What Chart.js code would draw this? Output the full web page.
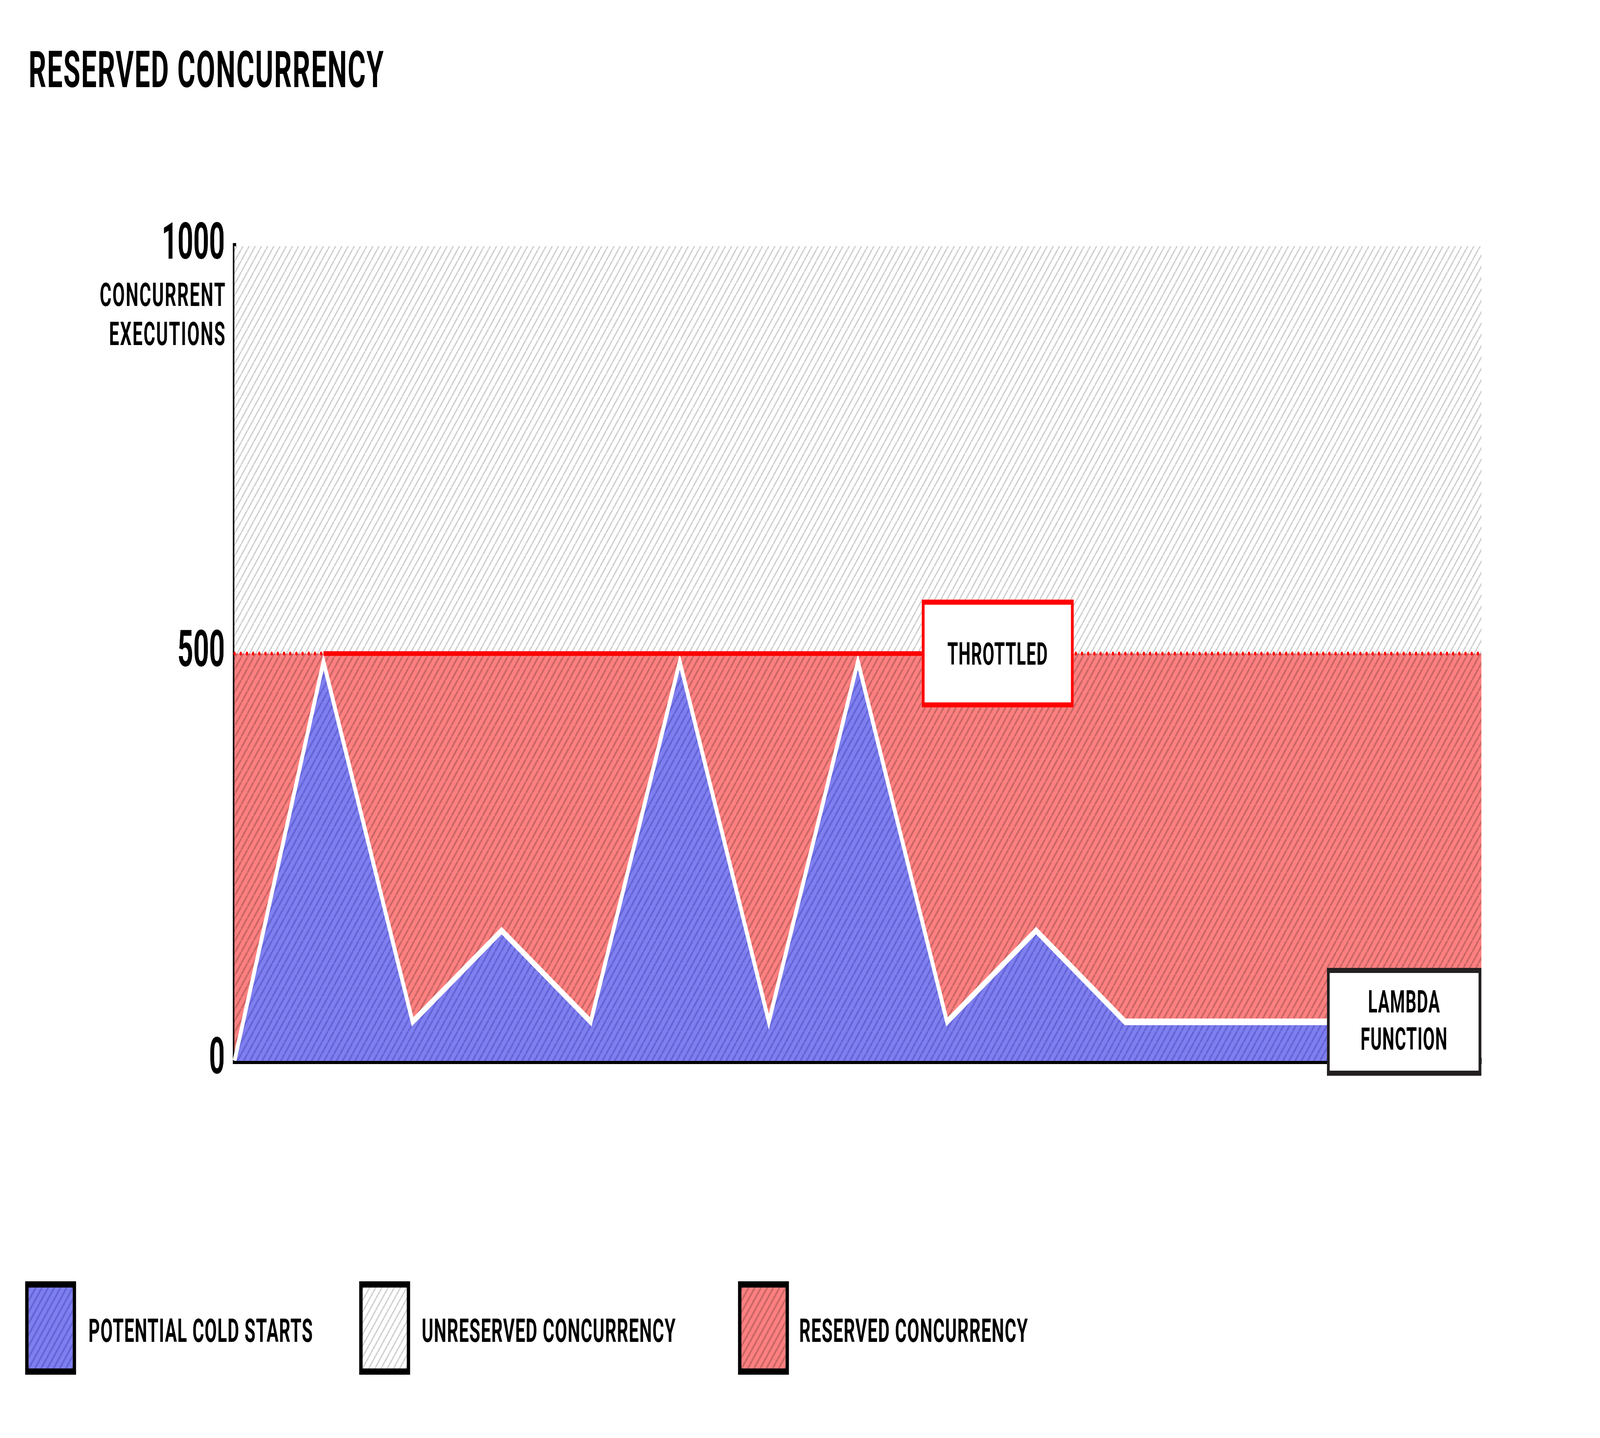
<!DOCTYPE html>
<html>
<head>
<meta charset="utf-8">
<script src="https://cdn.jsdelivr.net/npm/chart.js@4.4.1/dist/chart.umd.min.js"></script>
<style>
  html, body { margin: 0; padding: 0; background: #fff; overflow: hidden; width: 100vw; height: 100vh; }
  #wrap { position: absolute; left: 0; top: 0; width: 7501px; height: 3680px; transform-origin: 0 0; font-family: Roboto, "Liberation Sans", sans-serif; font-weight: 700; color: #000; }
  #chartBox { position: absolute; left: 0; top: 0; width: 7501px; height: 3680px; }
  .title { position: absolute; left: 134px; top: 114px; font-size: 129px; line-height: 129px; letter-spacing: 4px; white-space: nowrap; }
  .swatch { position: absolute; top: 3279px; width: 239px; height: 239px; box-sizing: border-box; border: 16px solid #000; }
  .legend-label { position: absolute; top: 3364px; font-size: 83px; line-height: 83px; letter-spacing: 2.6px; white-space: nowrap; }
  .cold { background: repeating-linear-gradient(135deg, #6565d9 0 7px, #7f7fef 7px 20.5px); }
  .unres { background: repeating-linear-gradient(135deg, #cfcfcf 0 5px, #ffffff 5px 20.5px); }
  .res { background: repeating-linear-gradient(135deg, #cc6767 0 7px, #ff8080 7px 20.5px); }
</style>
</head>
<body>
<div id="wrap">
  <div id="chartBox"><canvas id="chart"></canvas></div>
  <div class="title">RESERVED CONCURRENCY</div>

  <div class="swatch cold" style="left:118px"></div>
  <div class="legend-label" style="left:415px">POTENTIAL COLD STARTS</div>
  <div class="swatch unres" style="left:1684px"></div>
  <div class="legend-label" style="left:1977px">UNRESERVED CONCURRENCY</div>
  <div class="swatch res" style="left:3460px"></div>
  <div class="legend-label" style="left:3747px">RESERVED CONCURRENCY</div>
</div>

<script>
// time steps along x (no tick labels on this axis)
const steps = ['0', '1', '2', '3', '4', '5', '6', '7', '8', '9', '10', '11', '12', '13', '14'];

// concurrent executions of the lambda function
const coldStarts = [0, 490, 48, 160, 48, 490, 48, 490, 48, 160, 48, 48, 48, 48, 48];
// account pool (unreserved) and the function's reserved slice
const unreserved = [1000, 1000, 1000, 1000, 1000, 1000, 1000, 1000, 1000, 1000, 1000, 1000, 1000, 1000, 1000];
const reserved = [500, 500, 500, 500, 500, 500, 500, 500, 500, 500, 500, 500, 500, 500, 500];
// stretch where requests are throttled at the reserved limit
const throttled = [null, 500, 500, 500, 500, 500, 500, 500, 500, null, null, null, null, null, null];

const yTicks = [0, 500, 1000];
const axisCaption = ['CONCURRENT', 'EXECUTIONS'];
const throttleLabel = 'THROTTLED';
const throttleAt = 8.57;
const lambdaLabel = ['LAMBDA', 'FUNCTION'];

// the page is laid out at 7501x3680; fit it to whatever window we get
const wrap = document.getElementById('wrap');
function fit() {
  const sx = window.innerWidth / 7501;
  const sy = window.innerHeight / 3680;
  wrap.style.transform = 'scale(' + sx + ',' + sy + ')';
}
fit();
window.addEventListener('resize', fit);

const canvas = document.getElementById('chart');
const ctx = canvas.getContext('2d');

function hatch(base, stripe, width) {
  const size = 29;
  const tile = document.createElement('canvas');
  tile.width = size;
  tile.height = size;
  const g = tile.getContext('2d');
  g.fillStyle = base;
  g.fillRect(0, 0, size, size);
  g.strokeStyle = stripe;
  g.lineWidth = width;
  g.beginPath();
  for (const k of [-1, 0, 1]) {
    g.moveTo(k * size, size);
    g.lineTo(k * size + size, 0);
  }
  g.stroke();
  return ctx.createPattern(tile, 'repeat');
}

const annotations = {
  id: 'annotations',
  afterDraw(chart) {
    const { ctx, chartArea, scales: { x, y } } = chart;
    ctx.save();
    ctx.fillStyle = '#000';
    ctx.textBaseline = 'alphabetic';

    // caption under the top tick
    ctx.letterSpacing = '4.5px';
    ctx.font = '700 84px Roboto';
    ctx.textAlign = 'right';
    const top = y.getPixelForValue(1000);
    ctx.fillText(axisCaption[0], chartArea.left - 39, top + 153);
    ctx.fillText(axisCaption[1], chartArea.left - 39, top + 253);

    // throttled box on the reserved limit
    ctx.letterSpacing = '2.5px';
    let cx = x.getPixelForValue(throttleAt);
    let cy = y.getPixelForValue(500);
    let w = 712, h = 276, b = 13;
    ctx.fillStyle = '#fff';
    ctx.fillRect(cx - w / 2, cy - h / 2, w, h);
    ctx.strokeStyle = '#ff0000';
    ctx.lineWidth = b;
    ctx.strokeRect(cx - w / 2 + b / 2, cy - h / 2 + b / 2, w - b, h - b);
    ctx.fillStyle = '#000';
    ctx.font = '700 80px Roboto';
    ctx.textAlign = 'center';
    ctx.fillText(throttleLabel, cx, cy + 28);

    // lambda function box at the end of the series
    w = 724; h = 276;
    cy = y.getPixelForValue(coldStarts[coldStarts.length - 1]);
    const left = chartArea.right - w;
    ctx.fillStyle = '#fff';
    ctx.fillRect(left, cy - h / 2, w, h);
    ctx.strokeStyle = '#231f20';
    ctx.strokeRect(left + b / 2, cy - h / 2 + b / 2, w - b, h - b);
    ctx.fillStyle = '#000';
    ctx.fillText(lambdaLabel[0], left + w / 2, cy - 24);
    ctx.fillText(lambdaLabel[1], left + w / 2, cy + 71);
    ctx.restore();
  }
};

document.fonts.load('700 80px Roboto').then(() => {
  new Chart(canvas, {
    type: 'line',
    data: {
      labels: steps,
      datasets: [
        {
          label: 'Unreserved concurrency',
          data: unreserved,
          fill: 'origin',
          backgroundColor: hatch('#ffffff', '#cfcfcf', 5),
          borderWidth: 0,
          pointRadius: 0,
          order: 5
        },
        {
          label: 'Reserved concurrency',
          data: reserved,
          fill: 'origin',
          backgroundColor: hatch('#ff8080', '#cc6767', 7),
          borderWidth: 0,
          pointRadius: 0,
          order: 4
        },
        {
          label: 'Potential cold starts',
          data: coldStarts,
          fill: 'origin',
          backgroundColor: hatch('#7f7fef', '#6565d9', 7),
          borderColor: '#ffffff',
          borderWidth: 17,
          borderJoinStyle: 'miter',
          tension: 0,
          pointRadius: 0,
          order: 3
        },
        {
          label: 'Reserved limit',
          data: reserved,
          fill: false,
          borderColor: '#ff0000',
          borderWidth: 10,
          borderDash: [1, 28],
          borderCapStyle: 'round',
          pointRadius: 0,
          order: 2
        },
        {
          label: 'Throttled',
          data: throttled,
          fill: false,
          borderColor: '#ff0000',
          borderWidth: 12,
          spanGaps: false,
          pointRadius: 0,
          order: 1
        }
      ]
    },
    options: {
      responsive: true,
      maintainAspectRatio: false,
      devicePixelRatio: 1,
      animation: false,
      layout: { padding: { left: 0, top: 630, right: 556, bottom: 965 } },
      plugins: {
        legend: { display: false },
        title: { display: false },
        tooltip: { enabled: false }
      },
      scales: {
        x: {
          offset: false,
          z: 1,
          grid: { display: false, drawTicks: false },
          ticks: { display: false },
          border: { display: true, color: '#000', width: 16 },
          afterFit: (s) => { s.height = 0; }
        },
        y: {
          min: 0,
          max: 1000,
          z: 1,
          afterBuildTicks: (s) => { s.ticks = yTicks.map(v => ({ value: v })); },
          grid: { display: false, drawTicks: false },
          border: { display: true, color: '#000', width: 16 },
          ticks: {
            padding: 45,
            color: '#000',
            font: { family: 'Roboto', weight: '700', size: 129 },
            callback: (v) => String(v)
          },
          afterFit: (s) => { s.width = 1099; }
        }
      }
    },
    plugins: [annotations]
  });
});
</script>
</body>
</html>
